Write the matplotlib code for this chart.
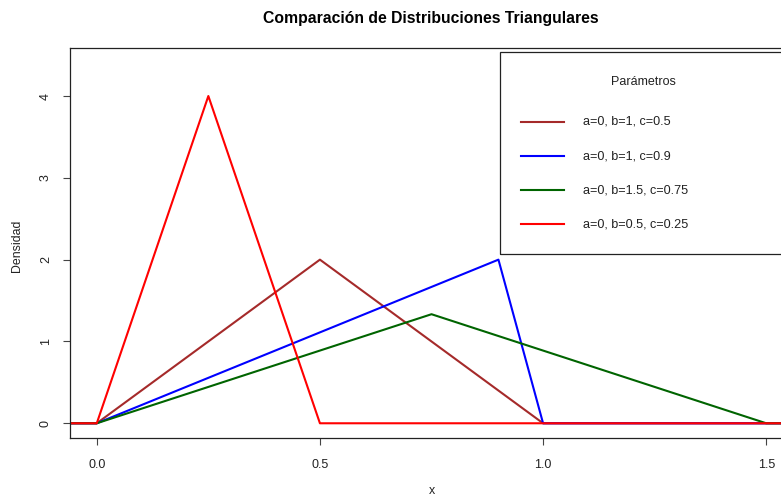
import numpy as np
import matplotlib.pyplot as plt
from matplotlib.patches import Rectangle
from matplotlib.lines import Line2D

plt.rcParams['font.family'] = ['Liberation Sans', 'DejaVu Sans']

# vertices of each triangular density (x, density)
labels = ['a=0, b=1, c=0.5', 'a=0, b=1, c=0.9', 'a=0, b=1.5, c=0.75', 'a=0, b=0.5, c=0.25']
colors = ['#A52A2A', '#0000FF', '#006400', '#FF0000']
xs = [[-0.1, 0.0, 0.5, 1.0, 1.6],
      [-0.1, 0.0, 0.9, 1.0, 1.6],
      [-0.1, 0.0, 0.75, 1.5, 1.6],
      [-0.1, 0.0, 0.25, 0.5, 1.6]]
ys = [[0, 0, 2.0, 0, 0],
      [0, 0, 2.0, 0, 0],
      [0, 0, 1.333, 0, 0],
      [0, 0, 4.0, 0, 0]]
xticks = [0.0, 0.5, 1.0, 1.5]
yticks = [0, 1, 2, 3, 4]

W, H = 781, 497
fig = plt.figure(figsize=(W / 100, H / 100), dpi=100)
# plot box: left 70px, top 48px, bottom 438px, right edge falls outside the image (793px)
ax = fig.add_axes([70 / W, (H - 438) / H, (793 - 70) / W, (438 - 48) / H])

for x, y, c in zip(xs, ys, colors):
    ax.plot(x, y, color=c, lw=1.5)

ax.set_xlim(-0.06, 1.56)
ax.set_ylim(-0.18, 4.587)
ax.set_xticks(xticks)
ax.set_xticklabels(['%.1f' % t for t in xticks])
ax.set_yticks(yticks)
ax.set_yticklabels([str(t) for t in yticks], rotation=90, va='center')
for s in ax.spines.values():
    s.set_color('#222222')
    s.set_linewidth(0.9)
ax.tick_params(axis='both', length=5, width=0.8, color='#444444', labelsize=9, labelcolor='#222222')
ax.tick_params(axis='x', pad=10)
ax.tick_params(axis='y', pad=8)

fig.text(431 / W, 1 - 18 / H, 'Comparación de Distribuciones Triangulares',
         ha='center', va='center', fontsize=11.3, fontweight='bold')
fig.text(432 / W, 1 - 491 / H, 'x', ha='center', va='center', fontsize=8.9, color='#222222')
fig.text(17 / W, 1 - 246 / H, 'Densidad', ha='center', va='center', rotation=90,
         fontsize=8.9, color='#222222')

# legend drawn by hand in pixel coordinates
def fx(px):
    return px / W

def fy(py):
    return 1 - py / H

fig.add_artist(Rectangle((fx(500), fy(254)), fx(781) - fx(500) + 0.01, fy(52) - fy(254),
                         transform=fig.transFigure, fill=False, edgecolor='#222222', lw=0.9))
fig.text(fx(643), fy(82), 'Parámetros', ha='center', va='center', fontsize=9.0, color='#222222')
for i, (lab, c) in enumerate(zip(labels, colors)):
    yy = fy(122 + 34 * i)
    fig.add_artist(Line2D([fx(521), fx(564)], [yy, yy], transform=fig.transFigure, color=c, lw=1.5))
    fig.text(fx(583), yy, lab, ha='left', va='center', fontsize=9.1, color='#222222')

fig.savefig('out.png', dpi=100)
